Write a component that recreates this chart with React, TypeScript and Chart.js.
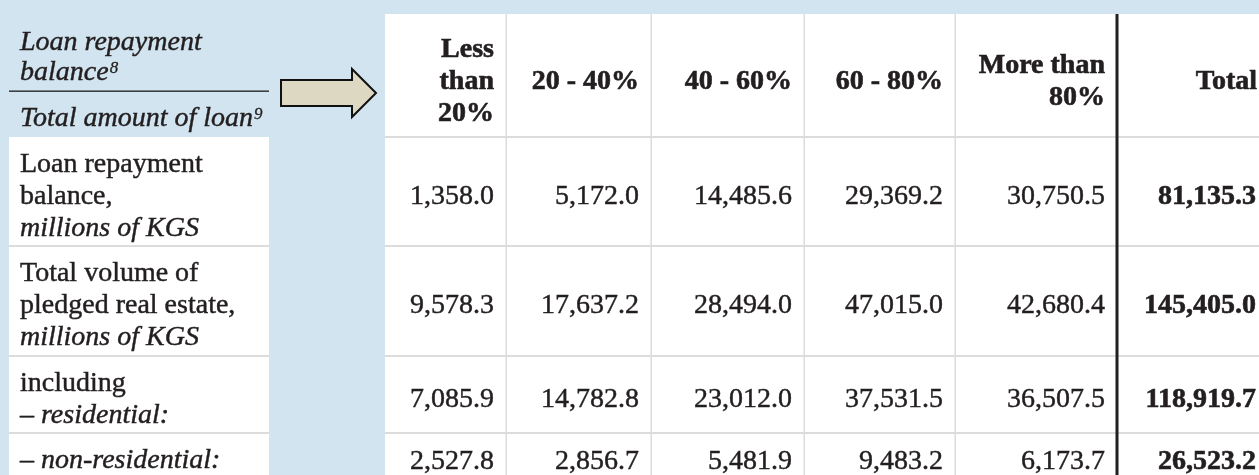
import React, { useEffect, useRef } from "react";
import { Chart, registerables } from "chart.js";

Chart.register(...registerables);

// ---------- data ----------
const columnHeaders: string[][] = [
  ["Less", "than", "20%"],
  ["20 - 40%"],
  ["40 - 60%"],
  ["60 - 80%"],
  ["More than", "80%"],
  ["Total"],
];

type Seg = { text: string; italic?: boolean };
const rowLabels: Seg[][] = [
  [{ text: "Loan repayment" }, { text: "balance," }, { text: "millions of KGS", italic: true }],
  [{ text: "Total volume of" }, { text: "pledged real estate," }, { text: "millions of KGS", italic: true }],
  [{ text: "including" }, { text: "– residential:", italic: true }],
  [{ text: "– non-residential:", italic: true }],
];

const loanBalance = [1358.0, 5172.0, 14485.6, 29369.2, 30750.5, 81135.3];
const pledgedTotal = [9578.3, 17637.2, 28494.0, 47015.0, 42680.4, 145405.0];
const residential = [7085.9, 14782.8, 23012.0, 37531.5, 36507.5, 118919.7];
const nonResidential = [2527.8, 2856.7, 5481.9, 9483.2, 6173.7, 26523.2];
const tableValues = [loanBalance, pledgedTotal, residential, nonResidential];

const cornerTop = [{ text: "Loan repayment" }, { text: "balance", sup: "8" }];
const cornerBottom = [{ text: "Total amount of loan", sup: "9" }];

// ---------- layout / style ----------
const W = 1259;
const H = 475;
const COL_EDGES = [385, 506, 651, 804, 955, 1117, 1269];
const ROW_EDGES = [14, 137, 246, 356, 433, 480];
const LABEL_X0 = 9;
const LABEL_X1 = 269;
const FONT = "'Liberation Serif', 'Times New Roman', serif";
const BG = "#D1E4EF";
const TEXT = "#231F20";
const GRID = "#DCDCDC";

const fmt = (v: number) =>
  v.toLocaleString("en-US", { minimumFractionDigits: 1, maximumFractionDigits: 1 });

const tablePlugin = {
  id: "tablePlugin",
  beforeDraw(chart: any) {
    const ctx: CanvasRenderingContext2D = chart.ctx;
    const sx = chart.scales.x;
    const sy = chart.scales.y;
    const px = (v: number) => sx.getPixelForValue(v);
    const py = (v: number) => sy.getPixelForValue(v);

    const text = (t: string, x: number, y: number, font: string, stroke = 0.45) => {
      ctx.font = font;
      ctx.fillText(t, px(x), py(y));
      if (stroke > 0) {
        ctx.lineWidth = stroke;
        ctx.strokeStyle = TEXT;
        ctx.strokeText(t, px(x), py(y));
      }
    };

    ctx.save();
    // background
    ctx.fillStyle = BG;
    ctx.fillRect(px(0), py(0), px(W) - px(0), py(H) - py(0));

    // white table body
    ctx.fillStyle = "#FFFFFF";
    ctx.fillRect(px(COL_EDGES[0]), py(ROW_EDGES[0]), px(W) - px(COL_EDGES[0]), py(H) - py(ROW_EDGES[0]));
    ctx.fillRect(px(LABEL_X0), py(ROW_EDGES[1]), px(LABEL_X1) - px(LABEL_X0), py(H) - py(ROW_EDGES[1]));

    // horizontal grid lines
    ctx.fillStyle = GRID;
    for (let r = 1; r < ROW_EDGES.length - 1; r++) {
      const y = py(ROW_EDGES[r]);
      ctx.fillRect(px(COL_EDGES[0]), y - 1, px(W) - px(COL_EDGES[0]), 2);
      if (r > 1) ctx.fillRect(px(LABEL_X0), y - 1, px(LABEL_X1) - px(LABEL_X0), 2);
    }
    // vertical grid lines
    for (let c = 1; c < COL_EDGES.length - 2; c++) {
      ctx.fillRect(px(COL_EDGES[c]) - 0.5, py(ROW_EDGES[0]), 1.5, py(H) - py(ROW_EDGES[0]));
    }
    // thick divider before Total
    ctx.fillStyle = TEXT;
    ctx.fillRect(px(COL_EDGES[5]) - 1.5, py(ROW_EDGES[0]), 3, py(H) - py(ROW_EDGES[0]));

    // corner: separator line
    ctx.fillStyle = "#1A1A1A";
    ctx.fillRect(px(LABEL_X0), py(90.5), px(LABEL_X1) - px(LABEL_X0), 1.3);

    // corner text
    ctx.fillStyle = TEXT;
    ctx.textBaseline = "alphabetic";
    ctx.textAlign = "left";
    const drawSup = (segs: any[], y0: number) => {
      segs.forEach((s, i) => {
        const y = y0 + i * 30;
        text(s.text, 20, y, `italic 28px ${FONT}`);
        if (s.sup) {
          ctx.font = `italic 28px ${FONT}`;
          const w = ctx.measureText(s.text).width;
          text(s.sup, 20 + w + 1, y - 7, `italic 17px ${FONT}`, 0.3);
        }
      });
    };
    drawSup(cornerTop, 50);
    drawSup(cornerBottom, 126);

    // arrow
    ctx.beginPath();
    ctx.moveTo(px(281), py(80));
    ctx.lineTo(px(352), py(80));
    ctx.lineTo(px(352), py(69));
    ctx.lineTo(px(376), py(93));
    ctx.lineTo(px(352), py(117));
    ctx.lineTo(px(352), py(106));
    ctx.lineTo(px(281), py(106));
    ctx.closePath();
    ctx.fillStyle = "#DDD8C1";
    ctx.fill();
    ctx.lineWidth = 2;
    ctx.strokeStyle = "#111111";
    ctx.lineJoin = "miter";
    ctx.stroke();

    // column headers
    ctx.fillStyle = TEXT;
    ctx.textAlign = "right";
    const hc = (ROW_EDGES[0] + ROW_EDGES[1]) / 2 + 13;
    columnHeaders.forEach((lines, c) => {
      const xr = c === columnHeaders.length - 1 ? W - 2 : COL_EDGES[c + 1] - 12;
      lines.forEach((ln, i) => {
        const y = hc + (i - (lines.length - 1) / 2) * 32;
        text(ln, xr, y, `bold 28px ${FONT}`, 0.6);
      });
    });

    // row labels & values
    rowLabels.forEach((segs, r) => {
      const top = ROW_EDGES[r + 1];
      const bottom = ROW_EDGES[r + 2];
      ctx.textAlign = "left";
      segs.forEach((s, i) => {
        text(s.text, 20, top + 35 + i * 32, `${s.italic ? "italic " : ""}28px ${FONT}`);
      });
      const yc = (top + bottom) / 2 + 12;
      ctx.textAlign = "right";
      tableValues[r].forEach((v, c) => {
        const isTotal = c === tableValues[r].length - 1;
        const xr = isTotal ? W - 3 : COL_EDGES[c + 1] - 12;
        text(fmt(v), xr, yc, `${isTotal ? "bold " : ""}28px ${FONT}`, isTotal ? 0.6 : 0.45);
      });
    });
    ctx.restore();
  },
};

export default function App() {
  const ref = useRef<HTMLCanvasElement | null>(null);
  useEffect(() => {
    if (!ref.current) return;
    const chart = new Chart(ref.current, {
      type: "scatter",
      data: { datasets: [{ data: [], pointRadius: 0 }] },
      options: {
        animation: false,
        responsive: false,
        devicePixelRatio: 1,
        layout: { padding: 0 },
        events: [],
        plugins: { legend: { display: false }, tooltip: { enabled: false } },
        scales: {
          x: { type: "linear", min: 0, max: W, display: false },
          y: { type: "linear", min: 0, max: H, reverse: true, display: false },
        },
      },
      plugins: [tablePlugin],
    });
    return () => chart.destroy();
  }, []);
  return (
    <div style={{ position: "absolute", left: 0, top: 0, width: W, height: H, overflow: "hidden" }}>
      <canvas ref={ref} width={W} height={H} style={{ display: "block" }} />
    </div>
  );
}
